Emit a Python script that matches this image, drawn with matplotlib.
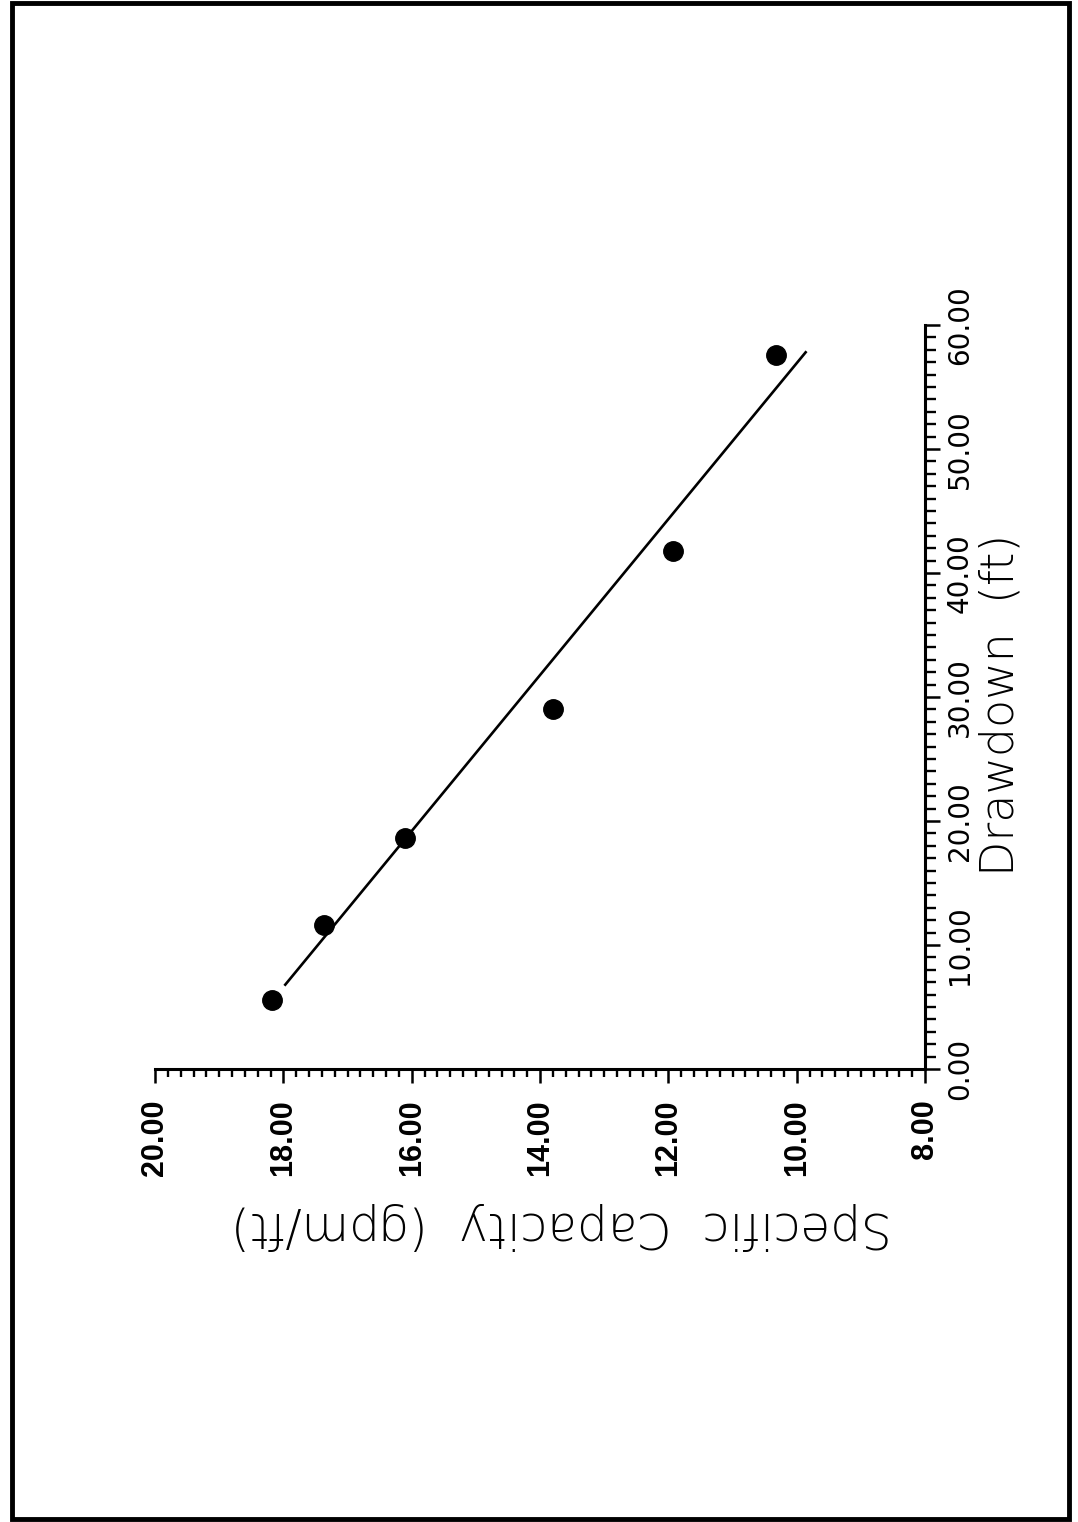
import matplotlib
matplotlib.use("Agg")
import matplotlib.pyplot as plt
from matplotlib.patches import Rectangle
from matplotlib.ticker import MultipleLocator, FixedLocator, FormatStrFormatter

# ---- data ----
drawdown_ft = [5.6, 11.6, 18.6, 29.0, 41.8, 57.6]
specific_capacity = [18.18, 17.37, 16.10, 13.80, 11.93, 10.32]
fit_drawdown = [6.8, 57.8]
fit_capacity = [17.97, 9.86]
cap_ticks = [20, 18, 16, 14, 12, 10, 8]
dd_ticks = [0, 10, 20, 30, 40, 50, 60]
xlabel_text = "Specific  Capacity  (gpm/ft)"
ylabel_text = "Drawdown  (ft)"

W, H = 1078, 1522
fig = plt.figure(figsize=(W / 100, H / 100), dpi=100)
fig.patch.set_facecolor("white")

# page frame
fig.patches.append(Rectangle((12 / W, 3 / H), (1069 - 12) / W, (1519 - 3) / H,
                             transform=fig.transFigure, fill=False,
                             edgecolor="black", linewidth=3.5))

# axes (page is rotated 90 degrees: capacity runs horizontally, drawdown vertically)
ax = fig.add_axes([155 / W, (H - 1069) / H, (925 - 155) / W, (1069 - 325) / H])
ax.set_xlim(20, 8)
ax.set_ylim(0, 60)
for s in ["top", "left"]:
    ax.spines[s].set_visible(False)
for s in ["bottom", "right"]:
    ax.spines[s].set_linewidth(2.2)

ax.plot(fit_capacity, fit_drawdown, color="black", linewidth=1.9)
ax.plot(specific_capacity, drawdown_ft, "o", color="black", markersize=14)

# ticks
ax.xaxis.set_major_locator(FixedLocator(cap_ticks))
ax.xaxis.set_minor_locator(MultipleLocator(0.2))
ax.xaxis.set_major_formatter(FormatStrFormatter("%.2f"))
ax.yaxis.set_major_locator(FixedLocator(dd_ticks))
ax.yaxis.set_minor_locator(MultipleLocator(1))
ax.yaxis.set_major_formatter(FormatStrFormatter("%.2f"))
ax.yaxis.tick_right()

ax.tick_params(axis="x", which="major", direction="out", length=10, width=1.8, pad=12)
ax.tick_params(axis="x", which="minor", direction="out", length=6, width=1.7)
ax.tick_params(axis="y", which="major", direction="out", length=11, width=1.8, pad=4)
ax.tick_params(axis="y", which="minor", direction="out", length=8, width=1.7)

for lab in ax.get_xticklabels():
    lab.set_rotation(90)
    lab.set_fontsize(22)
    lab.set_fontweight("bold")
    lab.set_family(["Liberation Sans", "DejaVu Sans"])
    lab.set_va("top")
    lab.set_ha("center")

for lab in ax.get_yticklabels():
    lab.set_rotation(90)
    lab.set_fontsize(20)
    lab.set_family(["DejaVu Sans"])
    lab.set_va("center")
    lab.set_ha("left")

ax.set_xlabel(xlabel_text, rotation=180, fontsize=35, fontweight="light",
              family=["DejaVu Sans"], va="center", ha="center")
ax.xaxis.set_label_coords((562 - 155) / 770, (1069 - 1226) / 744)

ax.yaxis.set_label_position("right")
ax.set_ylabel(ylabel_text, rotation=90, fontsize=33, fontweight="light",
              family=["DejaVu Sans"], va="center", ha="center")
ax.yaxis.set_label_coords((1000 - 155) / 770, (1069 - 705) / 744)

fig.savefig("out.png", dpi=100)
